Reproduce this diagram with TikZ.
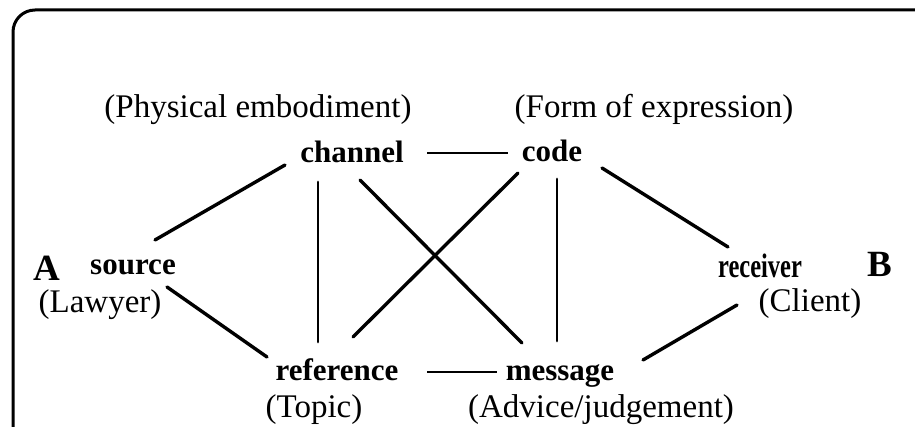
\documentclass[tikz,border=0pt]{standalone}
\usepackage{fontspec}
\setmainfont{Liberation Serif}
\usetikzlibrary{calc}
\tikzset{
  lbl/.style={inner sep=0pt, anchor=base, font=\fontsize{33}{36}\selectfont},
  key/.style={inner sep=0pt, anchor=base, font=\fontsize{31}{34}\selectfont\bfseries},
  big/.style={inner sep=0pt, anchor=base, font=\fontsize{37}{40}\selectfont\bfseries},
  link/.style={line width=3.4pt, line cap=round},
  vlink/.style={line width=2.8pt, line cap=round},
  dashlink/.style={line width=2.4pt},
  frame/.style={line width=3pt, rounded corners=22pt}
}
\begin{document}
\begin{tikzpicture}[x=1pt, y=-1pt]
\useasboundingbox (0,0) rectangle (915,427);
\draw[frame] (13,440) -- (13,10) -- (930,10);
% nodes
\node[big] (A) at (47,281) {A};
\node[key] (source) at (133,275) {source};
\node[lbl] (lawyer) at (100,313) {(Lawyer)};
\node[lbl] (phys) at (258,118) {(Physical embodiment)};
\node[key] (channel) at (352,163) {channel};
\node[lbl] (form) at (654,118) {(Form of expression)};
\node[key] (code) at (552,162) {code};
\node[key] (reference) at (337,380) {reference};
\node[lbl] (topic) at (314,417) {(Topic)};
\node[key] (message) at (560,380) {message};
\node[lbl] (advice) at (601,417) {(Advice/judgement)};
\node[key, font=\fontsize{34}{36}\selectfont\bfseries] (receiver) at (760,278) {\scalebox{0.72}[1]{receiver}};
\node[big] (B) at (880,277) {B};
\node[lbl] (client) at (810,312) {(Client)};
% connectors
\draw[link] ([shift={(22,-35)}]source.base) -- ([shift={(-67,2)}]channel.base);
\draw[link] ([shift={(34,12)}]source.base) -- ([shift={(-70,-23)}]reference.base);
\draw[vlink] ([shift={(-34,19)}]channel.base) -- ([shift={(-19,-38)}]reference.base);
\draw[link] ([shift={(8,17)}]channel.base) -- ([shift={(-38,-37)}]message.base);
\draw[link] ([shift={(16,-43)}]reference.base) -- ([shift={(-34,11)}]code.base);
\draw[vlink] ([shift={(5,17)}]code.base) -- ([shift={(-3,-39)}]message.base);
\draw[link] ([shift={(50,6)}]code.base) -- ([shift={(-32,-31)}]receiver.base);
\draw[dashlink] ([shift={(75,-10)}]channel.base) -- ([shift={(-44,-9)}]code.base);
\draw[dashlink] ([shift={(90,-8)}]reference.base) -- ([shift={(-63,-8)}]message.base);
\draw[link] ([shift={(83,-20)}]message.base) -- ([shift={(-23,27)}]receiver.base);
\end{tikzpicture}
\end{document}
